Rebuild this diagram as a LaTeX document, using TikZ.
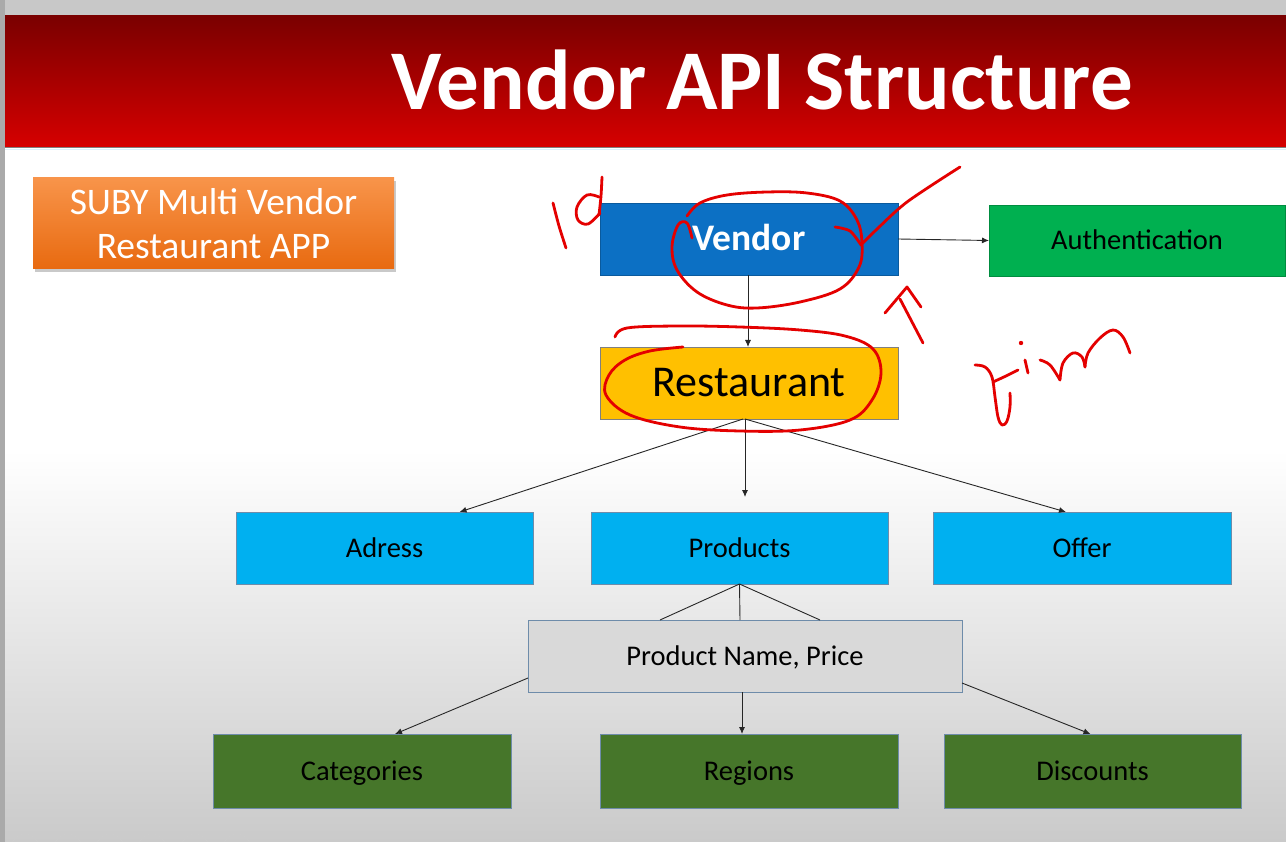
\documentclass[tikz,border=0pt]{standalone}
\usepackage{fontspec}
\setmainfont{Carlito}
\usetikzlibrary{shadows,arrows.meta}
\definecolor{bannertop}{RGB}{122,0,0}
\definecolor{bannerbot}{RGB}{214,0,0}
\definecolor{orangetop}{RGB}{248,148,74}
\definecolor{orangebot}{RGB}{232,106,16}
\definecolor{vendorblue}{RGB}{12,112,196}
\definecolor{authgreen}{RGB}{0,176,80}
\definecolor{restyellow}{RGB}{255,192,0}
\definecolor{skyblue}{RGB}{0,176,240}
\definecolor{lightgray}{RGB}{217,217,217}
\definecolor{darkgreen}{RGB}{70,118,42}
\definecolor{boxedge}{RGB}{110,140,170}
\definecolor{ink}{RGB}{228,0,0}
\definecolor{framegray}{RGB}{200,200,200}
\definecolor{slidebot}{RGB}{202,202,202}
\tikzset{
  box/.style={rectangle, anchor=north west, inner sep=0pt, outer sep=0pt, draw=boxedge, line width=0.8pt, align=center},
  small/.style={text height=18pt, text depth=0pt, font=\fontsize{28.5}{28.5}\selectfont},
  conn/.style={draw=black!85, line width=0.9pt},
  arr/.style={conn, -{Latex[length=7pt,width=6pt]}},
  pen/.style={draw=ink, line width=2.8pt, line cap=round, line join=round},
}
\begin{document}
\begin{tikzpicture}[x=1pt,y=-1pt]
\useasboundingbox (0,0) rectangle (1286,842);
% frame and slide background
\fill[framegray] (0,0) rectangle (1286,16);
\fill[framegray!85!black] (0,0) rectangle (5,842);
\fill[white] (5,147) rectangle (1286,450);
\shade[top color=white, bottom color=slidebot] (5,450) rectangle (1286,842);
% banner
\shade[top color=bannertop, bottom color=bannerbot] (5,16) rectangle (1286,147);
\draw[gray, line width=1pt] (5,147.5) -- (1286,147.5);
\draw[cyan!15, line width=1.5pt] (5,149.5) -- (1286,149.5);
\node[text=white, font=\fontsize{85}{85}\selectfont\bfseries, anchor=base] (title) at (762,110) {Vendor API Structure};
% nav circles
\foreach \cx in {25,68,110,152,195,237}
  \draw[gray!40, line width=0.8pt] (\cx,848) circle (14);
% app label
\node[box, draw=none, minimum width=361pt, minimum height=91pt, top color=orangetop, bottom color=orangebot,
      drop shadow={shadow xshift=2pt, shadow yshift=-3pt, opacity=0.35, fill=black!60},
      text=white, font=\fontsize{37.5}{44}\selectfont] (app) at (33,178) {SUBY Multi Vendor\\Restaurant APP};
% nodes
\node[box, text height=23.6pt, text depth=0pt, minimum width=298pt, minimum height=72pt, fill=vendorblue, draw=vendorblue!80!black, text=white, font=\fontsize{37.5}{37.5}\selectfont\bfseries] (vendor) at (600,203) {Vendor};
\node[box, small, minimum width=296pt, minimum height=71pt, fill=authgreen, draw=authgreen!80!black] (auth) at (989,205) {Authentication};
\node[box, text height=27.7pt, text depth=0pt, minimum width=298pt, minimum height=72pt, fill=restyellow, draw=gray, font=\fontsize{44}{44}\selectfont] (rest) at (600,347) {Restaurant};
\node[box, small, minimum width=297pt, minimum height=72pt, fill=skyblue] (adress) at (236,512) {Adress};
\node[box, small, minimum width=297pt, minimum height=72pt, fill=skyblue] (products) at (591,512) {Products};
\node[box, small, minimum width=298pt, minimum height=72pt, fill=skyblue] (offer) at (933,512) {Offer};
\node[box, small, minimum width=434pt, minimum height=72pt, fill=lightgray] (pname) at (528,620) {Product Name, Price};
\node[box, small, minimum width=298pt, minimum height=74pt, fill=darkgreen] (cat) at (213,734) {Categories};
\node[box, small, minimum width=298pt, minimum height=74pt, fill=darkgreen] (reg) at (600,734) {Regions};
\node[box, small, minimum width=297pt, minimum height=74pt, fill=darkgreen] (disc) at (944,734) {Discounts};
% connectors
\coordinate (pend) at (745,497);
\draw[arr] (vendor.east) -- (auth.west);
\draw[arr] ([xshift=-1pt]vendor.south) -- ([xshift=-1pt]rest.north);
\draw[arr] ([xshift=-6pt]rest.south) -- ([xshift=75pt]adress.north);
\draw[arr] ([xshift=-4pt]rest.south) -- (pend);
\draw[arr] ([xshift=-4pt]rest.south) -- ([xshift=-16pt]offer.north);
\draw[conn] (products.south) -- ([xshift=-85pt]pname.north);
\draw[conn] (products.south) -- ([xshift=-5pt]pname.north);
\draw[conn] (products.south) -- ([xshift=75pt]pname.north);
\draw[arr] ([yshift=-22pt]pname.west) -- ([xshift=33pt]cat.north);
\draw[arr] ([xshift=-3pt]pname.south) -- ([xshift=-7pt]reg.north);
\draw[arr] ([yshift=-27pt]pname.east) -- ([xshift=-2pt]disc.north);
% handwritten annotations
% "Id"
\draw[pen] plot[smooth] coordinates {(553,203) (559,226) (566,248)};
\draw[pen] plot[smooth] coordinates {(602,177) (601,196) (599,215)};
\draw[pen] plot[smooth, tension=0.6] coordinates {(599,197) (587,195) (577,207) (578,220) (588,224) (600,213)};
% loop around Vendor
\draw[pen] plot[smooth, tension=0.6] coordinates {(692,238) (687,223) (678,225) (672,247) (677,270) (697,292) (727,305) (757,308) (800,302) (840,289) (859,267) (862,243) (857,220) (840,201) (807,193) (767,192) (727,195) (700,203) (687,216)};
% check mark
\draw[pen] plot[smooth, tension=0.5] coordinates {(835,227) (850,231) (861,245)};
\draw[pen] plot[smooth, tension=0.5] coordinates {(861,245) (875,231) (907,202) (960,167)};
% arrow-like mark
\draw[pen] (885,313) -- (907,287) -- (921,307);
\draw[pen] (900,299) -- (923,343);
% loop around Restaurant
\draw[pen] plot[smooth, tension=0.6] coordinates {(615,337) (627,328) (680,326) (740,327) (800,330) (845,336) (873,349) (881,373) (872,400) (850,420) (800,430) (740,431) (680,427) (630,415) (606,395) (609,375) (625,360) (650,351) (683,347)};
% "firm"
\draw[pen] plot[smooth, tension=0.6] coordinates {(975,365) (985,367) (992,377) (995,397) (998,417) (1002,425) (1007,421) (1010,407) (1010,393)};
\draw[pen] plot[smooth] coordinates {(993,382) (1006,376) (1018,370)};
\fill[ink] (1021,343) circle (2.2);
\draw[pen] (1025,360) -- (1028,373);
\draw[pen] plot[smooth, tension=0.6] coordinates {(1040,360) (1050,365) (1060,380)};
\draw[pen] plot[smooth, tension=0.6] coordinates {(1060,380) (1063,363) (1073,353) (1082,357) (1085,367)};
\draw[pen] plot[smooth, tension=0.6] coordinates {(1085,367) (1088,353) (1100,338) (1113,330) (1123,337) (1130,353)};
\end{tikzpicture}
\end{document}
